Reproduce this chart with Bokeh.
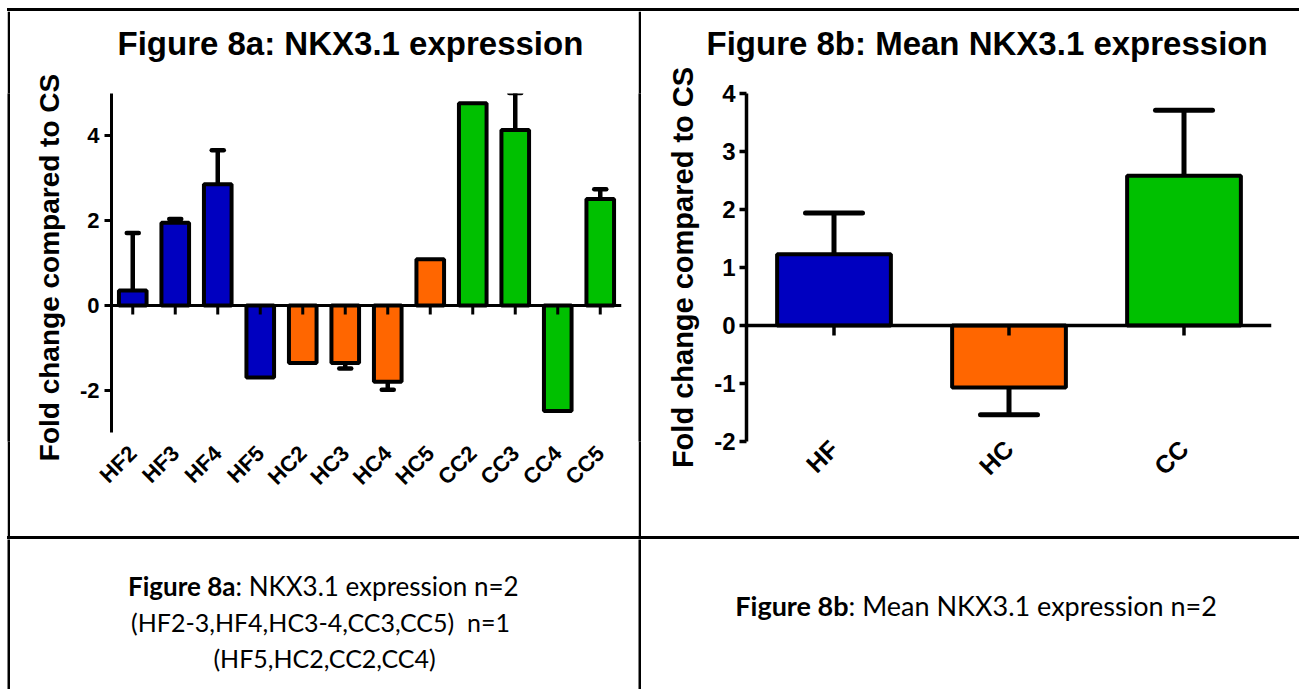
import math
from bokeh.plotting import figure
from bokeh.models import (Range1d, FactorRange, ColumnDataSource, FixedTicker,
                          PrintfTickFormatter, Whisker, TeeHead, Title, Span, Spacer)
from bokeh.transform import factor_cmap
from bokeh.layouts import row, column
from bokeh.embed import file_html
from bokeh.resources import INLINE
from bokeh.core.properties import value

# ---------------- data ----------------
samples_a = ["HF2", "HF3", "HF4", "HF5", "HC2", "HC3", "HC4", "HC5", "CC2", "CC3", "CC4", "CC5"]
groups_a = ["HF", "HF", "HF", "HF", "HC", "HC", "HC", "HC", "CC", "CC", "CC", "CC"]
fold_a = [0.35, 1.95, 2.86, -1.70, -1.36, -1.36, -1.80, 1.09, 4.77, 4.14, -2.49, 2.51]
err_a = [1.36, 0.09, 0.80, 0.0, 0.0, 0.13, 0.19, 0.0, 0.0, 0.87, 0.0, 0.23]

groups_b = ["HF", "HC", "CC"]
fold_b = [1.23, -1.07, 2.58]
err_b = [0.71, 0.47, 1.13]

yaxis_a = (-3, 5)
yaxis_b = (-2, 4)
yticks_a = [-2, 0, 2, 4]
yticks_b = [-2, -1, 0, 1, 2, 3, 4]

title_a = "Figure 8a: NKX3.1 expression"
title_b = "Figure 8b: Mean NKX3.1 expression"
ylabel = "Fold change compared to CS"

cap_a_bold = "Figure 8a"
cap_a_rest = ": NKX3.1 expression n=2"
cap_a_line2 = "(HF2-3,HF4,HC3-4,CC3,CC5)\u00a0 n=1"
cap_a_line3 = "(HF5,HC2,CC2,CC4)"
cap_b_bold = "Figure 8b"
cap_b_rest = ": Mean NKX3.1 expression n=2"

# ---------------- styles ----------------
GROUP_ORDER = ["HF", "HC", "CC"]
PALETTE = ["#0000C0", "#FF6600", "#00C000"]
AX_FONT = "Liberation Sans"
CAP_FONT = "Lato"


def chart(samples, groups, fold, err, yaxis, axis_px, yticks, title, W, H, borders,
          title_size, title_offset, spacer, tick_font, xlab_font, ylab_font,
          ylab_standoff, ylab_tick_standoff, xlab_standoff, axis_w, cap_size, err_w, xtick_px):
    left, right, top, bottom = borders
    frame_h = H - top - bottom
    # the value axis occupies axis_px pixels from the top of the plot area
    span = (yaxis[1] - yaxis[0]) * frame_h / axis_px
    yr = Range1d(yaxis[1] - span, yaxis[1])
    p = figure(width=W, height=H, x_range=FactorRange(*samples),
               y_range=yr, output_backend="svg", toolbar_location=None,
               min_border_left=left, min_border_right=right,
               min_border_top=top, min_border_bottom=bottom)
    p.outline_line_color = None
    p.xgrid.grid_line_color = None
    p.ygrid.grid_line_color = None

    src = ColumnDataSource(dict(sample=samples, group=groups, fold=fold))
    p.vbar(x="sample", top="fold", bottom=0, width=0.65, source=src,
           fill_color=factor_cmap("group", palette=PALETTE, factors=GROUP_ORDER),
           line_color="black", line_width=4)

    # zero line with small downward ticks at every category
    tick_len = xtick_px * span / frame_h
    p.segment(x0=samples, y0=[0] * len(samples), x1=samples, y1=[-tick_len] * len(samples),
              line_color="black", line_width=axis_w)
    p.add_layout(Span(location=0, dimension="width", line_color="black", line_width=axis_w))

    pos = dict(sample=[], lower=[], upper=[])
    neg = dict(sample=[], lower=[], upper=[])
    for s, f, e in zip(samples, fold, err):
        if e <= 0:
            continue
        if f >= 0:
            pos["sample"].append(s); pos["lower"].append(f); pos["upper"].append(f + e)
        else:
            neg["sample"].append(s); neg["lower"].append(f - e); neg["upper"].append(f)
    if pos["sample"]:
        p.add_layout(Whisker(source=ColumnDataSource(pos), base="sample", lower="lower",
                             upper="upper", line_width=err_w, line_color="black",
                             upper_head=TeeHead(size=cap_size, line_width=err_w,
                                                line_cap="round", line_color="black"),
                             lower_head=None))
    if neg["sample"]:
        p.add_layout(Whisker(source=ColumnDataSource(neg), base="sample", lower="lower",
                             upper="upper", line_width=err_w, line_color="black",
                             lower_head=TeeHead(size=cap_size, line_width=err_w,
                                                line_cap="round", line_color="black"),
                             upper_head=None))

    # y axis
    ya = p.yaxis[0]
    ya.bounds = yaxis
    ya.ticker = FixedTicker(ticks=yticks, minor_ticks=[])
    ya.formatter = PrintfTickFormatter(format="%d")
    ya.axis_line_width = axis_w
    ya.major_tick_line_width = axis_w
    ya.major_tick_out = 7
    ya.major_tick_in = 0
    ya.minor_tick_line_color = None
    ya.major_label_standoff = ylab_tick_standoff
    ya.major_label_text_font = AX_FONT
    ya.major_label_text_font_style = "bold"
    ya.major_label_text_font_size = tick_font
    ya.major_label_text_color = "black"
    ya.axis_label = ylabel
    ya.axis_label_text_font = AX_FONT
    ya.axis_label_text_font_style = "bold"
    ya.axis_label_text_font_size = ylab_font
    ya.axis_label_text_color = "black"
    ya.axis_label_standoff = ylab_standoff

    # bottom axis: category labels only
    xa = p.xaxis[0]
    xa.axis_line_color = None
    xa.major_tick_line_color = None
    xa.major_tick_out = 0
    xa.major_tick_in = 0
    xa.major_label_orientation = math.pi / 4
    xa.major_label_standoff = xlab_standoff
    xa.major_label_text_font = AX_FONT
    xa.major_label_text_font_style = "bold"
    xa.major_label_text_font_size = xlab_font
    xa.major_label_text_color = "black"

    # gap between title and plot area, then the title (outer)
    p.add_layout(Title(text=" ", text_font_size="1px", standoff=spacer), "above")
    p.add_layout(Title(text=title, text_font=AX_FONT, text_font_style="bold",
                       text_font_size=title_size, text_color="black",
                       align="left", offset=title_offset, standoff=0), "above")
    return p


def solid(W, H):
    f = figure(width=W, height=H, output_backend="svg", toolbar_location=None,
               title=None, x_axis_type=None, y_axis_type=None, min_border=0,
               background_fill_color="black", border_fill_color="black")
    f.outline_line_color = None
    return f


def hline(W, H):
    return Spacer(width=W, height=H, styles={"background-color": "black"})


def caption(W, H):
    c = figure(width=W, height=H, x_range=Range1d(0, W), y_range=Range1d(H, 0),
               output_backend="svg", toolbar_location=None, title=None,
               x_axis_type=None, y_axis_type=None, min_border=0)
    c.outline_line_color = None
    return c


MARGIN_L, MARGIN_T = 7, 8
CELL_A_W, CELL_B_W, ROW1_H, ROW2_H, LINE = 628, 658, 525, 150, 3
FULL_W = MARGIN_L + LINE + CELL_A_W + LINE + CELL_B_W

pa = chart(samples_a, groups_a, fold_a, err_a, yaxis_a, 339, yticks_a, title_a,
           CELL_A_W, ROW1_H, (101, 17, 82, 95), "33px", 6, 29,
           "22px", "22px", "28px", 12, 5, 8, 3, 12, 4.5, 9)
pb = chart(groups_b, groups_b, fold_b, err_b, yaxis_b, 348, yticks_b, title_b,
           CELL_B_W, ROW1_H, (105, 28, 82, 95), "33px", -40, 29,
           "24px", "25px", "29px", 12, 4, 3, 3.5, 57, 5, 10)

ca = caption(CELL_A_W, ROW2_H)
ca.text(x=[225], y=[46], text=[cap_a_bold], text_font=value(CAP_FONT), text_font_style="bold",
        text_font_size="26px", text_align="right", text_baseline="middle", text_color="black")
ca.text(x=[225], y=[46], text=[cap_a_rest], text_font=value(CAP_FONT),
        text_font_size="26px", text_align="left", text_baseline="middle", text_color="black")
ca.text(x=[310, 314], y=[82, 118], text=[cap_a_line2, cap_a_line3], text_font=value(CAP_FONT),
        text_font_size="25px", text_align="center", text_baseline="middle", text_color="black")

cb = caption(CELL_B_W, ROW2_H)
cb.text(x=[207], y=[66], text=[cap_b_bold], text_font=value(CAP_FONT), text_font_style="bold",
        text_font_size="27px", text_align="right", text_baseline="middle", text_color="black")
cb.text(x=[207], y=[66], text=[cap_b_rest], text_font=value(CAP_FONT),
        text_font_size="27px", text_align="left", text_baseline="middle", text_color="black")

layout = column(
    Spacer(width=FULL_W, height=MARGIN_T),
    row(Spacer(width=MARGIN_L, height=LINE), hline(FULL_W - MARGIN_L, LINE)),
    row(Spacer(width=MARGIN_L, height=ROW1_H), solid(LINE, ROW1_H), pa,
        solid(LINE, ROW1_H), pb),
    row(Spacer(width=MARGIN_L, height=LINE), hline(FULL_W - MARGIN_L, LINE)),
    row(Spacer(width=MARGIN_L, height=ROW2_H), solid(LINE, ROW2_H), ca,
        solid(LINE, ROW2_H), cb),
)

open("out.html", "w").write(file_html(layout, INLINE, title="Figure 8"))
